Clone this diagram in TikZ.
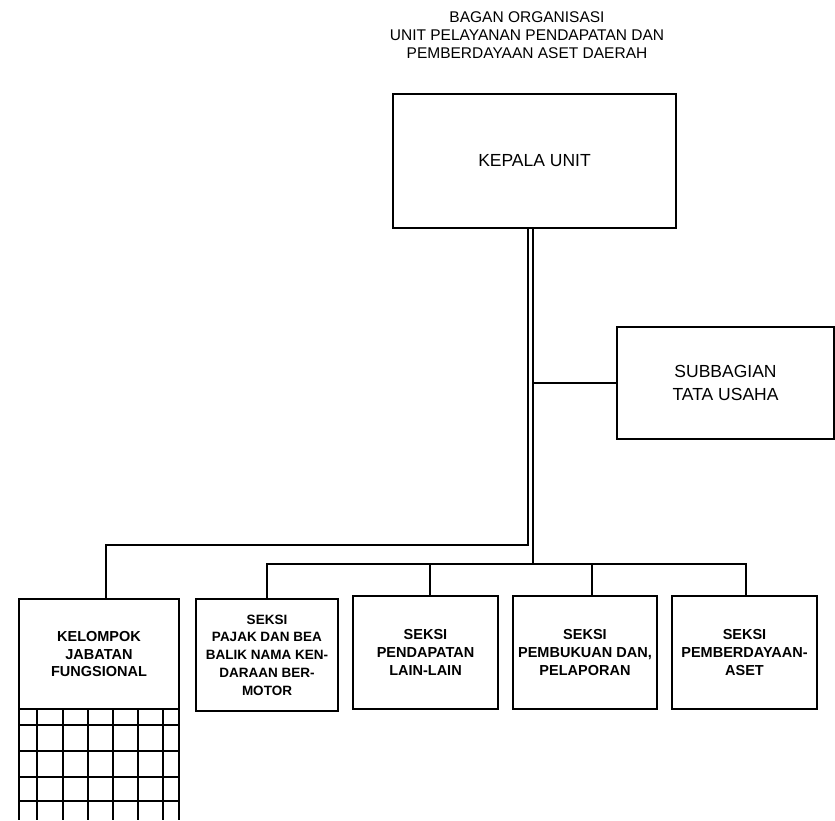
\documentclass[tikz,border=0pt]{standalone}
\usepackage{fontspec}
\setmainfont{Liberation Sans}

\begin{document}
\begin{tikzpicture}[x=1pt,y=-1pt,
	unitbox/.style={draw,line width=1.8pt,inner sep=0pt,align=center},
	headbox/.style={unitbox,font=\fontsize{17.5}{22.7}\selectfont},
	seksibox/.style={unitbox,font=\fontsize{14.5}{17.7}\selectfont\bfseries,minimum width=145pt,minimum height=113pt},
	link/.style={line width=1.4pt}]
	\useasboundingbox (0,0) rectangle (835,820);
	% Title
	\node(title) [align=center,font=\fontsize{15.5}{18}\selectfont] at (527,35.5)
		{BAGAN ORGANISASI\\UNIT PELAYANAN PENDAPATAN DAN\\PEMBERDAYAAN ASET DAERAH};
	% Boxes, placed at absolute coordinates
	\node(kepala) [headbox,minimum width=283pt,minimum height=134pt] at (534.5,161) {KEPALA UNIT};
	\node(subbag) [headbox,minimum width=217pt,minimum height=112pt] at (725.5,383) {SUBBAGIAN\\TATA USAHA};
	\node(kelompok) [seksibox,minimum width=160pt,minimum height=110pt] at (99,654) {KELOMPOK\\JABATAN\\FUNGSIONAL};
	\node(pajak) [seksibox,font=\fontsize{13.5}{17.7}\selectfont\bfseries,minimum width=142pt,minimum height=112pt] at (267,655) {SEKSI\\PAJAK DAN BEA\\BALIK NAMA KEN-\\DARAAN BER-\\MOTOR};
	\node(lain) [seksibox] at (425.5,652.5) {SEKSI\\PENDAPATAN\\LAIN-LAIN};
	\node(buku) [seksibox,minimum width=144pt] at (585,652.5) {SEKSI\\PEMBUKUAN DAN,\\PELAPORAN};
	\node(aset) [seksibox] at (744.5,652.5) {SEKSI\\PEMBERDAYAAN-\\ASET};
	% Grid under the functional group
	\foreach \gx in {19,37,63,88,113,138,163,179}
		\draw[line width=1.8pt] (\gx,709) -- (\gx,820);
	\foreach \gy in {725,751,777,801}
		\draw[line width=1.8pt] (19,\gy) -- (179,\gy);
	% Connectors
	\coordinate(kL) at (528,228);
	\coordinate(kR) at (533,228);
	\coordinate(jog) at (106,545);
	\coordinate(bus) at (533,564);
	\draw[link] (kL) |- (jog) -- (jog |- kelompok.north);
	\draw[link] (kR) -- (bus);
	\draw[link] (kR |- subbag.west) -- (subbag.west);
	\draw[link] (pajak.north) |- (bus) -| (aset.north -| 746,0);
	\draw[link] (430,564) -- (430,0 |- lain.north);
	\draw[link] (592,564) -- (592,0 |- buku.north);
\end{tikzpicture}
\end{document}
